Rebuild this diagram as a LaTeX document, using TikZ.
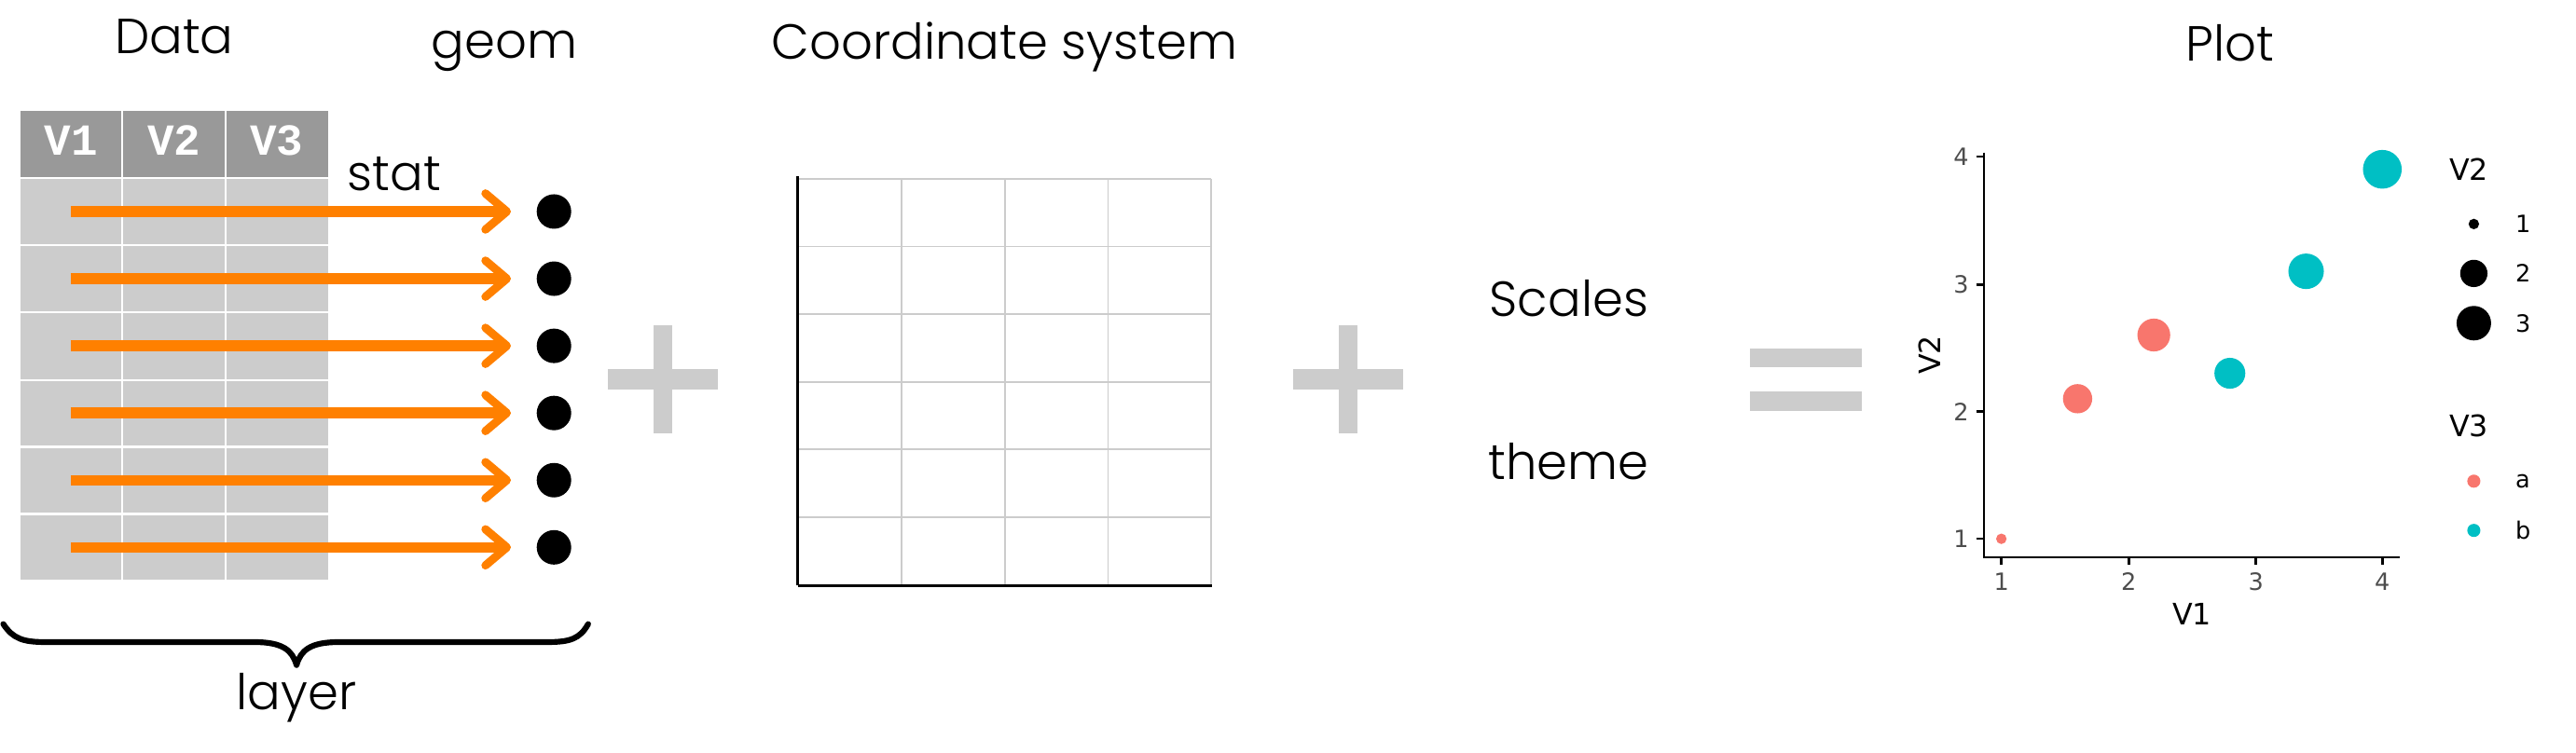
\documentclass[tikz,border=0pt]{standalone}
\usepackage{fontspec}
\setmainfont{Poppins Light}
\newfontfamily\monofont{Liberation Mono}
\newfontfamily\plotfont{DejaVu Sans}
\usetikzlibrary{arrows.meta}
\definecolor{hdrgray}{HTML}{999999}
\definecolor{cellgray}{HTML}{CCCCCC}
\definecolor{arrorange}{HTML}{FF8000}
\definecolor{opgray}{HTML}{CCCCCC}
\definecolor{ticklab}{HTML}{4D4D4D}
\definecolor{ggred}{HTML}{F8766D}
\definecolor{ggcyan}{HTML}{00BFC4}
\tikzset{
  hand/.style={font=\fontsize{30}{36}\selectfont, anchor=base, inner sep=0pt},
  hdrtext/.style={text=white, font=\monofont\bfseries\fontsize{27}{30}\selectfont, anchor=base, inner sep=0pt},
  geomdot/.style={circle, fill=black, minimum size=21pt, inner sep=0pt},
  statarrow/.style={draw=arrorange, line width=6.5pt, -{Straight Barb[length=13pt,width=22pt,line width=5pt,round]}, shorten >=15.5pt},
  opbar/.style={fill=opgray},
  gridline/.style={draw=opgray, line width=1.1pt},
  gridthin/.style={draw=opgray, line width=0.7pt},
  axisline/.style={draw=black, line width=1.5pt},
  ticklabel/.style={font=\plotfont\fontsize{14.5}{16}\selectfont, text=ticklab, inner sep=0pt},
  leglabel/.style={font=\plotfont\fontsize{14.5}{16}\selectfont, text=black, inner sep=0pt, anchor=west},
  axtitle/.style={font=\plotfont\fontsize{18}{20}\selectfont, text=black, inner sep=0pt},
  ggpoint/.style={circle, inner sep=0pt, minimum size=#1},
}
\begin{document}
\begin{tikzpicture}[x=1pt,y=-1pt]
\useasboundingbox (0,0) rectangle (1568,458);
% ---------- titles ----------
\node[hand] (tdata) at (106,32.6) {Data};
\node[hand] (tgeom) at (307,35.5) {geom};
\node[hand] (tcoord) at (611.5,36) {Coordinate system};
\node[hand] (tplot) at (1357.5,37) {Plot};
\node[hand] (tstat) at (240,116) {stat};
\node[hand] (tlayer) at (180.5,432) {layer};
\node[hand] (tscales) at (955,192.4) {Scales};
\node[hand] (ttheme) at (954.7,291.7) {theme};
% ---------- data table ----------
\fill[hdrgray] (12.5,67.8) rectangle (199.8,108.3);
\fill[cellgray] (12.5,108.3) rectangle (199.8,353);
\foreach \x in {74.4,137.3} \draw[white,line width=1.3pt] (\x,67.8) -- (\x,353);
\foreach \y in {108.3,149.3,190.3,231.4,272.1,312.9} \draw[white,line width=1.3pt] (12.5,\y) -- (199.8,\y);
\node[hdrtext] (h1) at (43.4,94.6) {V1};
\node[hdrtext] (h2) at (105.9,94.6) {V2};
\node[hdrtext] (h3) at (168.5,94.6) {V3};
% ---------- stat arrows and geom dots ----------
\foreach \i/\y in {1/128.8,2/169.7,3/210.6,4/251.5,5/292.4,6/333.3} {
  \coordinate (s\i) at (43.1,\y);
  \node[geomdot] (d\i) at (337.2,\y) {};
  \draw[statarrow] (s\i) -- (d\i);
}
% ---------- brace ----------
\draw[line width=3.5pt, line cap=round, line join=round]
  (2,380) .. controls (8,389) and (14,391) .. (28,391) -- (155,391)
  .. controls (172,391) and (178,396) .. (180.5,405)
  .. controls (183,396) and (189,391) .. (206,391) -- (333,391)
  .. controls (347,391) and (353,389) .. (358,380);
% ---------- operators ----------
\fill[opbar] (370,225) rectangle (437,237);
\fill[opbar] (398,198) rectangle (409,264);
\fill[opbar] (787,225) rectangle (854,237);
\fill[opbar] (815,198) rectangle (826,264);
\fill[opbar] (1065,212.1) rectangle (1133,223.7);
\fill[opbar] (1065,238.5) rectangle (1133,250.2);
% ---------- coordinate system ----------
\foreach \y/\s in {108.9/gridline,150.1/gridline,191.3/gridthin,232.5/gridline,273.7/gridline,314.9/gridthin} \draw[\s] (485.9,\y) -- (737.2,\y);
\foreach \x/\s in {548.7/gridline,611.5/gridline,674.4/gridthin,737.2/gridline} \draw[\s] (\x,108.9) -- (\x,356.2);
\draw[axisline] (485.6,107.5) -- (485.6,356.6);
\draw[draw=black,line width=2pt] (485.6,356.6) -- (737.6,356.6);
% ---------- plot ----------
\draw[axisline] (1207.7,92.9) -- (1207.7,340);
\draw[axisline] (1207,339.3) -- (1461,339.3);
\foreach \v/\y in {1/328.1,2/250.6,3/173.2,4/95.4} {
  \draw[axisline] (1202.9,\y) -- (1207.7,\y);
  \node[ticklabel,anchor=east] (yl\v) at (1198.5,\y) {\v};
}
\foreach \v/\x in {1/1218.2,2/1295.7,3/1373.2,4/1450.1} {
  \draw[axisline] (\x,339.3) -- (\x,344);
  \node[ticklabel,anchor=north] (xl\v) at (\x,348.5) {\v};
}
\node[ggpoint=6.4pt, fill=ggred] (p1) at (1218.2,328.1) {};
\node[ggpoint=17.8pt, fill=ggred] (p2) at (1264.6,242.8) {};
\node[ggpoint=20pt, fill=ggred] (p3) at (1311.0,204.0) {};
\node[ggpoint=18.8pt, fill=ggcyan] (p4) at (1357.3,227.3) {};
\node[ggpoint=21.6pt, fill=ggcyan] (p5) at (1403.7,165.2) {};
\node[ggpoint=23.6pt, fill=ggcyan] (p6) at (1450.1,103.1) {};
\node[axtitle, rotate=90] (ytitle) at (1174.7,216.2) {V2};
\node[axtitle] (xtitle) at (1334.3,374) {V1};
% legend V2
\node[axtitle, anchor=west] (lg2) at (1490.7,103.3) {V2};
\node[ggpoint=6.4pt, fill=black] (k1) at (1505.8,136.4) {};
\node[ggpoint=16.6pt, fill=black] (k2) at (1505.8,166.5) {};
\node[ggpoint=21pt, fill=black] (k3) at (1505.8,196.8) {};
\node[leglabel] (kl1) at (1531,136.4) {1};
\node[leglabel] (kl2) at (1531,166.5) {2};
\node[leglabel] (kl3) at (1531,196.8) {3};
% legend V3
\node[axtitle, anchor=west] (lg3) at (1490.7,259.4) {V3};
\node[ggpoint=8pt, fill=ggred] (ka) at (1505.8,293) {};
\node[ggpoint=8pt, fill=ggcyan] (kb) at (1505.8,323) {};
\node[leglabel] (kla) at (1531,293) {a};
\node[leglabel] (klb) at (1531,323) {b};
\end{tikzpicture}
\end{document}
